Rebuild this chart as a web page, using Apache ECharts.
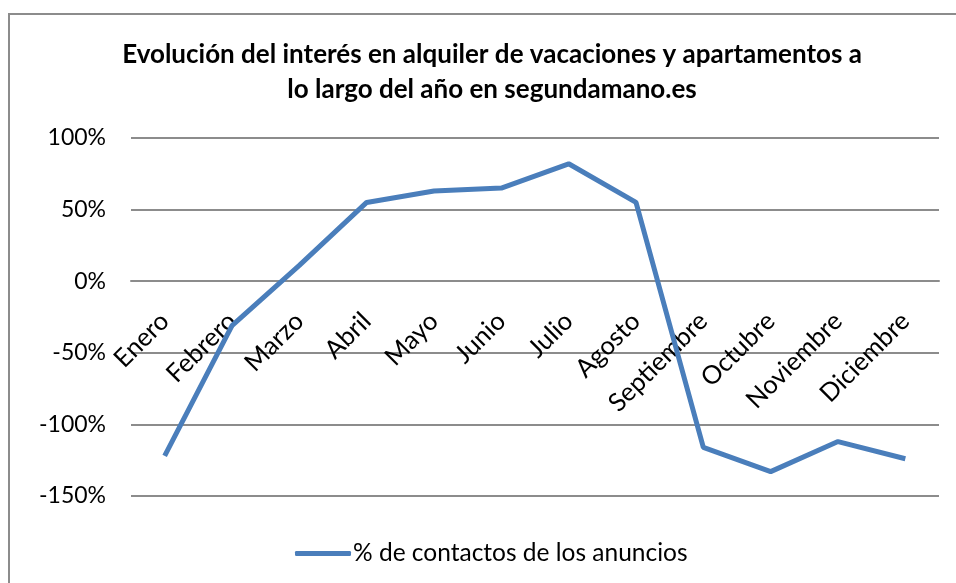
<!DOCTYPE html>
<html>
<head>
<meta charset="utf-8">
<script src="https://cdn.jsdelivr.net/npm/echarts@6/dist/echarts.min.js"></script>
<style>
  html, body { margin: 0; padding: 0; background: #fff; }
  #chart { width: 956px; height: 583px; }
</style>
</head>
<body>
<div id="chart"></div>
<script>
// meses
var months = ['Enero', 'Febrero', 'Marzo', 'Abril', 'Mayo', 'Junio', 'Julio',
  'Agosto', 'Septiembre', 'Octubre', 'Noviembre', 'Diciembre'];
// % de contactos de los anuncios
var contactos = [-122, -31, 11, 55, 63, 65, 82, 55, -116, -133, -112, -124];
var seriesName = '% de contactos de los anuncios';

var myChart = echarts.init(document.getElementById('chart'));
myChart.setOption({
  animation: false,
  textStyle: { fontFamily: 'Lato, "Open Sans", sans-serif', color: '#000' },
  graphic: [{
    type: 'rect',
    shape: { x: 9, y: 14, width: 1000, height: 700 },
    style: { fill: 'none', stroke: '#8c8c8c', lineWidth: 2 }
  }],
  title: {
    text: 'Evolución del interés en alquiler de vacaciones y apartamentos a\nlo largo del año en segundamano.es',
    left: 487,
    top: 32,
    textAlign: 'center',
    textStyle: {
      fontFamily: 'Lato, "Open Sans", sans-serif',
      fontSize: 26,
      fontWeight: 'bold',
      lineHeight: 35,
      color: '#000'
    }
  },
  legend: {
    data: [seriesName],
    left: 290,
    top: 536,
    icon: 'roundRect',
    itemWidth: 56,
    itemHeight: 5,
    itemGap: 4,
    textStyle: { fontSize: 24.5, color: '#000', padding: [0, 0, 0, -3] }
  },
  grid: {
    left: 131,
    right: 17,
    top: 138,
    bottom: 87,
    containLabel: false,
    outerBoundsMode: 'none'
  },
  xAxis: {
    type: 'category',
    data: months,
    // el eje cruza en 0%
    offset: -215,
    axisLine: { onZero: false, lineStyle: { color: '#8c8c8c', width: 2 } },
    axisTick: { show: false },
    axisLabel: {
      interval: 0,
      rotate: 45,
      margin: 36,
      fontSize: 25.5,
      color: '#000'
    }
  },
  yAxis: {
    type: 'value',
    min: -150,
    max: 100,
    interval: 50,
    axisLine: { show: false },
    axisTick: { show: false },
    axisLabel: {
      formatter: '{value}%',
      fontSize: 23,
      margin: 25,
      color: '#000'
    },
    splitLine: { lineStyle: { color: '#8c8c8c', width: 2 } }
  },
  series: [{
    name: seriesName,
    type: 'line',
    data: contactos,
    symbol: 'none',
    lineStyle: { color: '#4a7ebb', width: 5 },
    itemStyle: { color: '#4a7ebb' }
  }]
});
</script>
</body>
</html>
